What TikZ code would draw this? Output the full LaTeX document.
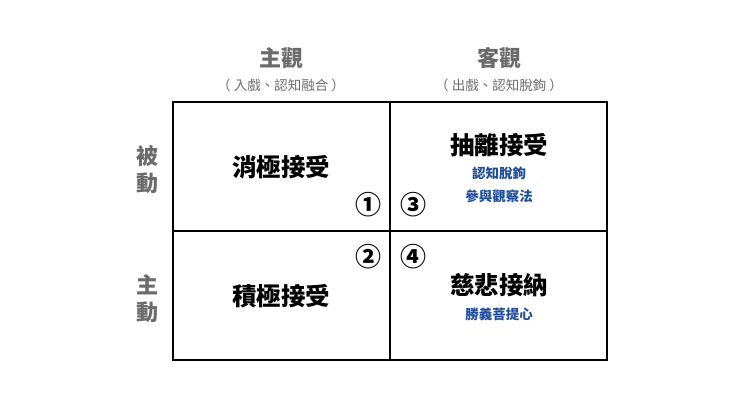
\documentclass[tikz,border=0pt]{standalone}
\usepackage{fontspec}
\setmainfont{Noto Sans CJK TC}
\definecolor{hd}{HTML}{6B6B6B}
\definecolor{bl}{HTML}{1F4EA0}
\begin{document}
\begin{tikzpicture}[x=1pt,y=-1pt,
  hdr/.style={text=hd,font=\fontsize{22}{24}\selectfont\bfseries},
  sub/.style={text=hd,font=\fontsize{13.5}{15}\selectfont},
  main/.style={font=\fontsize{24.5}{26}\selectfont\bfseries},
  blu/.style={text=bl,font=\fontsize{13.5}{15}\selectfont\bfseries},
  num/.style={font=\fontsize{26}{28}\selectfont\bfseries}]
\useasboundingbox (0,0) rectangle (740,416);
\draw[line width=1.8pt] (173,102) rectangle (607,360);
\draw[line width=1.8pt] (390,102) -- (390,360);
\draw[line width=1.8pt] (173,231) -- (607,231);
\node[hdr] (h1) at (281,58) {主觀};
\node[sub] (s1) at (281,85) {（ 入戲、認知融合 ）};
\node[hdr] (h2) at (499,58) {客觀};
\node[sub] (s2) at (499,85) {（ 出戲、認知脫鉤 ）};
\node[hdr] (v1a) at (147,156) {被};
\node[hdr] (v1b) at (147,183) {動};
\node[hdr] (v2a) at (147,285) {主};
\node[hdr] (v2b) at (147,312) {動};
\node[main] (c1) at (281,167) {消極接受};
\node[main] (c3) at (499,145) {抽離接受};
\node[blu] (b1) at (499,173) {認知脫鉤};
\node[blu] (b2) at (499,196) {參與觀察法};
\node[main] (c2) at (281,296) {積極接受};
\node[main] (c4) at (499,285) {慈悲接納};
\node[blu] (b3) at (499,314) {勝義菩提心};
\node[num] (n1) at (368,205) {①};
\node[num] (n3) at (413,205) {③};
\node[num] (n2) at (368,257) {②};
\node[num] (n4) at (413,257) {④};
\end{tikzpicture}
\end{document}
